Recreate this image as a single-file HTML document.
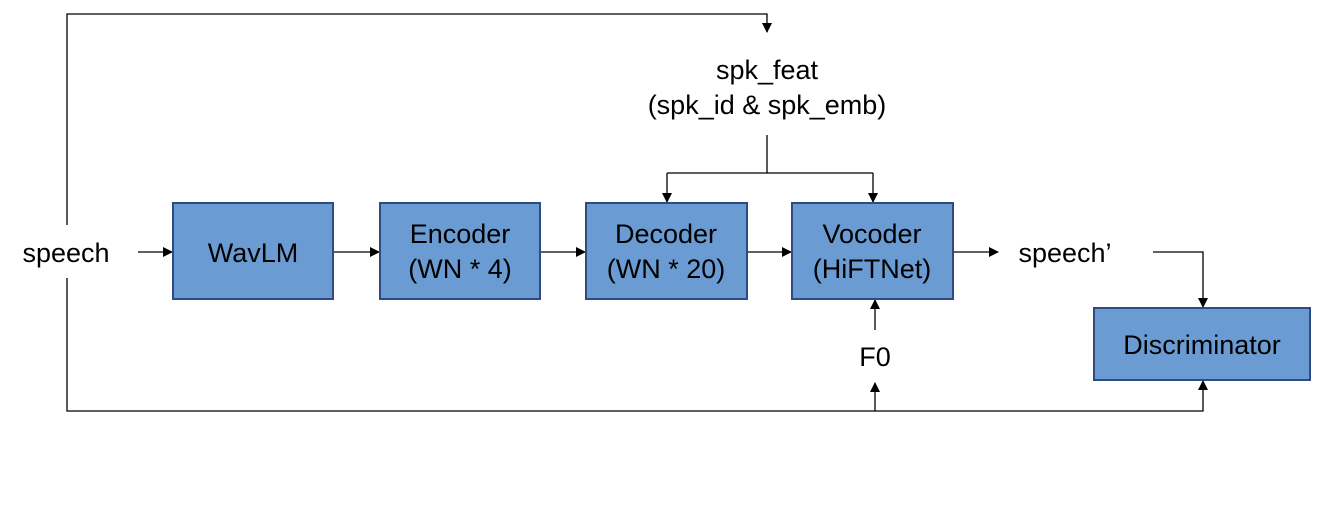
<!DOCTYPE html>
<html><head><meta charset="utf-8"><style>
body{margin:0;background:#fff;width:1318px;height:504px;overflow:hidden}
svg text{font-family:"Liberation Sans",sans-serif;font-size:27px;fill:#000}
</style></head><body>
<svg width="1318" height="504" viewBox="0 0 1318 504" xmlns="http://www.w3.org/2000/svg">
<defs><marker id="a" markerWidth="10" markerHeight="10" refX="9" refY="5" orient="auto" markerUnits="userSpaceOnUse"><path d="M0,0 L10,5 L0,10 z" fill="#000"/></marker></defs>
<g stroke="#000" stroke-width="1.3" fill="none">
<polyline points="67,225 67,14 767,14 767,32" marker-end="url(#a)"/>
<polyline points="67,278 67,411 1203,411 1203,381" marker-end="url(#a)"/>
<line x1="875" y1="411" x2="875" y2="383" marker-end="url(#a)"/>
<line x1="875" y1="330" x2="875" y2="300" marker-end="url(#a)"/>
<line x1="767" y1="135" x2="767" y2="173"/>
<polyline points="667,173 873,173"/>
<line x1="667" y1="173" x2="667" y2="202" marker-end="url(#a)"/>
<line x1="873" y1="173" x2="873" y2="202" marker-end="url(#a)"/>
<line x1="138" y1="252" x2="172" y2="252" marker-end="url(#a)"/>
<line x1="333" y1="252" x2="379" y2="252" marker-end="url(#a)"/>
<line x1="540" y1="252" x2="585" y2="252" marker-end="url(#a)"/>
<line x1="747" y1="252" x2="791" y2="252" marker-end="url(#a)"/>
<line x1="953" y1="252" x2="998" y2="252" marker-end="url(#a)"/>
<polyline points="1153,252 1203,252 1203,307" marker-end="url(#a)"/>
</g>
<g fill="#6a9bd2" stroke="#2f4b80" stroke-width="2">
<rect x="173" y="203" width="160" height="96"/>
<rect x="380" y="203" width="160" height="96"/>
<rect x="586" y="203" width="161" height="96"/>
<rect x="792" y="203" width="161" height="96"/>
<rect x="1094" y="308" width="216" height="72"/>
</g>
<g text-anchor="middle">
<text x="253" y="262">WavLM</text>
<text x="460" y="243">Encoder</text><text x="460" y="278">(WN * 4)</text>
<text x="666" y="243">Decoder</text><text x="666" y="278">(WN * 20)</text>
<text x="872" y="243">Vocoder</text><text x="872" y="278">(HiFTNet)</text>
<text x="1202" y="354">Discriminator</text>
<text x="767" y="79">spk_feat</text>
<text x="767" y="114">(spk_id &amp; spk_emb)</text>
<text x="875" y="366">F0</text>
<text x="66" y="262">speech</text>
<text x="1065" y="262">speech’</text>
</g>
</svg>
</body></html>
